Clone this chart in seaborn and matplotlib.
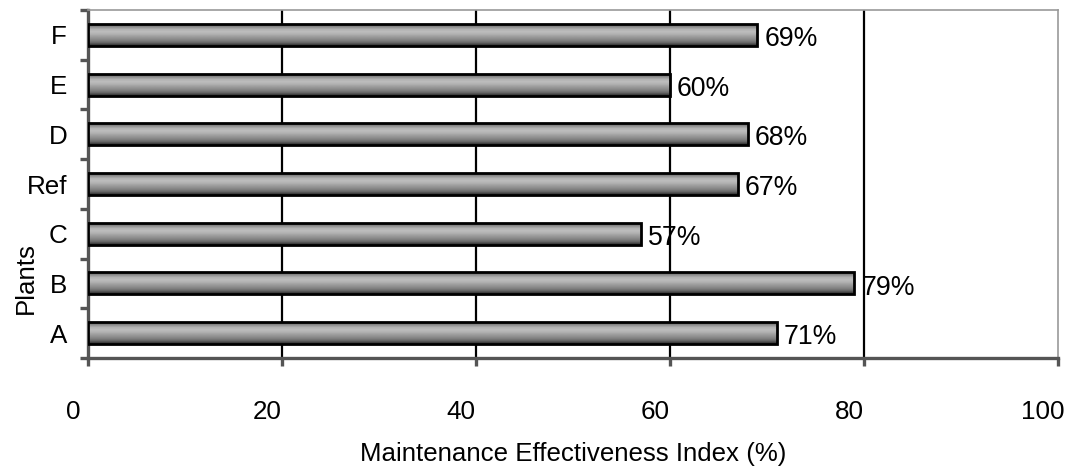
import numpy as np
import pandas as pd
import matplotlib
matplotlib.use("Agg")
import matplotlib.pyplot as plt
import matplotlib.transforms as mtransforms
import seaborn as sns

# Plants listed top to bottom, with their maintenance effectiveness index (%)
plants = ["F", "E", "D", "Ref", "C", "B", "A"]
effectiveness = [69, 60, 68, 67, 57, 79, 71]
x_ticks = [0, 20, 40, 60, 80, 100]

df = pd.DataFrame({"Plants": plants, "Index": effectiveness})

sns.set_style("white")
plt.rcParams["font.family"] = ["Liberation Sans", "DejaVu Sans"]
plt.rcParams["text.color"] = "black"
plt.rcParams["axes.labelcolor"] = "black"
plt.rcParams["xtick.color"] = "black"
plt.rcParams["ytick.color"] = "black"

fig = plt.figure(figsize=(10.68, 4.72), dpi=100)
ax = fig.add_axes([88 / 1068, 1 - 358 / 472, 970 / 1068, 348 / 472])

sns.barplot(data=df, x="Index", y="Plants", order=plants, orient="h",
            color="#999999", edgecolor="black", linewidth=2.0, width=0.44,
            ax=ax, zorder=3)

# Cylinder-like shading across each bar
profile = np.array([0.42, 0.58, 0.70, 0.74, 0.70, 0.63, 0.57, 0.50, 0.40, 0.22])[:, None]
for patch in ax.patches:
    x0, y0 = patch.get_x(), patch.get_y()
    w, h = patch.get_width(), patch.get_height()
    im = ax.imshow(profile, cmap="gray", vmin=0, vmax=1, aspect="auto",
                   interpolation="bilinear",
                   extent=(x0, x0 + w, y0 + h, y0), zorder=3.5)
    im.set_clip_path(patch)
    patch.set_facecolor("none")
    patch.set_zorder(4)

ax.set_xlim(0, 100)
ax.set_ylim(len(plants) - 0.5, -0.5)

# Value labels at the end of each bar
for i, v in enumerate(effectiveness):
    ax.annotate(f"{v}%", xy=(v, i), xytext=(5, -3), textcoords="offset points",
                ha="left", va="center", fontsize=19.2, color="black", zorder=6)

# Vertical grid lines
for gx in x_ticks[1:-1]:
    ax.axvline(gx, color="black", linewidth=1.6, zorder=1)

# Spines
for side in ["left", "bottom"]:
    ax.spines[side].set_color("#555555")
    ax.spines[side].set_linewidth(2.4)
for side in ["top", "right"]:
    ax.spines[side].set_color("#999999")
    ax.spines[side].set_linewidth(1.2)

ax.set_xticks(x_ticks)
ax.set_xticklabels([str(t) for t in x_ticks], fontsize=18.7, color="black")
ax.tick_params(axis="x", which="major", direction="out", length=6, width=2.4,
               color="#555555", labelcolor="black", pad=24, bottom=True)
shift = mtransforms.ScaledTranslation(-15 / 100, 0, fig.dpi_scale_trans)
for lbl in ax.get_xticklabels():
    lbl.set_transform(lbl.get_transform() + shift)

ax.set_yticks(range(len(plants)))
ax.set_yticklabels(plants, fontsize=18.7, color="black")
ax.set_yticks(np.arange(-0.5, len(plants), 1.0), minor=True)
ax.tick_params(axis="y", which="major", length=0, pad=15, labelcolor="black")
ax.tick_params(axis="y", which="minor", direction="out", length=6, width=2.4,
               color="#555555", left=True)

ax.set_xlabel("Maintenance Effectiveness Index (%)", fontsize=18.6, labelpad=13,
              color="black")
ax.set_ylabel("Plants", fontsize=18.6, color="black")
ax.yaxis.set_label_coords(-0.052, 0.23)

fig.savefig("out.png", dpi=100)
